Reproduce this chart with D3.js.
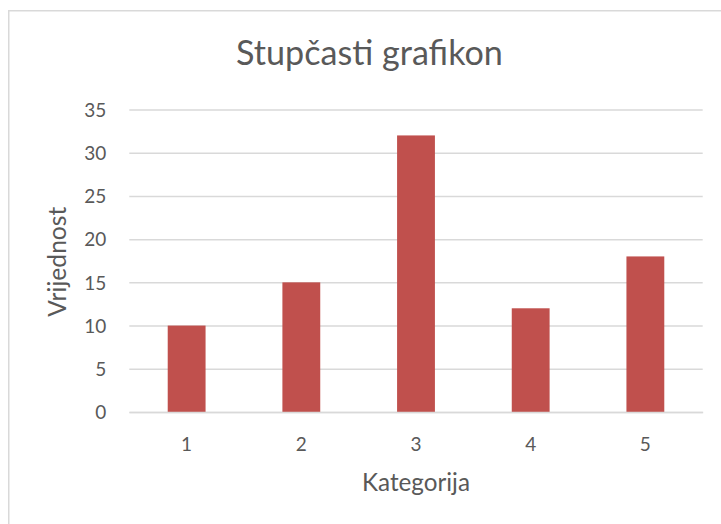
<!DOCTYPE html>
<html>
<head>
<meta charset="utf-8">
<script src="https://cdn.jsdelivr.net/npm/d3@7/dist/d3.min.js"></script>
<style>
  html, body { margin: 0; padding: 0; background: #fff; }
  svg { display: block; }
  text { font-family: Lato, "Open Sans", sans-serif; fill: #595959; }
</style>
</head>
<body>
<svg id="chart" width="721" height="524"></svg>
<script>
const categories = ["1", "2", "3", "4", "5"];
const values = [10, 15, 32, 12, 18];
const yTicks = [0, 5, 10, 15, 20, 25, 30, 35];
const title = "Stupčasti grafikon";
const xTitle = "Kategorija";
const yTitle = "Vrijednost";

const W = 721, H = 524;
const svg = d3.select("#chart");
const m = { left: 129.3, right: 702.7, top: 109.5, bottom: 412 };

// chart area border (only top/left visible)
svg.append("rect")
  .attr("x", 8.75).attr("y", 10.75)
  .attr("width", 740).attr("height", 540)
  .attr("fill", "#fff").attr("stroke", "#d9d9d9").attr("stroke-width", 1.5);

const x = d3.scaleBand().domain(categories).range([m.left, m.right]).paddingInner(0.67).paddingOuter(0.335);
const y = d3.scaleLinear().domain([0, 35]).range([m.bottom, m.top]);

// gridlines
const yAxis = d3.axisLeft(y).tickValues(yTicks).tickSize(-(m.right - m.left)).tickPadding(23);
const gy = svg.append("g").attr("transform", `translate(${m.left},0)`).call(yAxis);
gy.select(".domain").remove();
gy.selectAll(".tick line").attr("stroke", "#d9d9d9").attr("stroke-width", 1.5);
gy.selectAll(".tick text").attr("font-size", 19).attr("fill", "#595959")
  .attr("font-family", "Lato, sans-serif").attr("dy", "0.35em");

// bars
svg.append("g").selectAll("rect").data(values).join("rect")
  .attr("x", (d, i) => x(categories[i]))
  .attr("width", x.bandwidth())
  .attr("y", d => y(d))
  .attr("height", d => y(0) - y(d))
  .attr("fill", "#c0504d");

// x axis
const xAxis = d3.axisBottom(x).tickSize(0).tickPadding(26);
const gx = svg.append("g").attr("transform", `translate(0,${m.bottom})`).call(xAxis);
gx.select(".domain").attr("stroke", "#d9d9d9").attr("stroke-width", 1.5);
gx.selectAll(".tick text").attr("font-size", 19).attr("fill", "#595959")
  .attr("font-family", "Lato, sans-serif");

function fitText(sel, targetW, size) {
  sel.attr("font-size", size);
  const w = sel.node().getComputedTextLength();
  sel.attr("font-size", size * targetW / w);
}

const t = svg.append("text").attr("x", 369.5).attr("y", 64.5)
  .attr("text-anchor", "middle").text(title);
fitText(t, 267, 30);

const xt = svg.append("text").attr("x", 416).attr("y", 491)
  .attr("text-anchor", "middle").text(xTitle);
fitText(xt, 108, 21);

const yt = svg.append("text")
  .attr("transform", "translate(66,261.7) rotate(-90)")
  .attr("text-anchor", "middle").text(yTitle);
fitText(yt, 110, 21);
</script>
</body>
</html>
